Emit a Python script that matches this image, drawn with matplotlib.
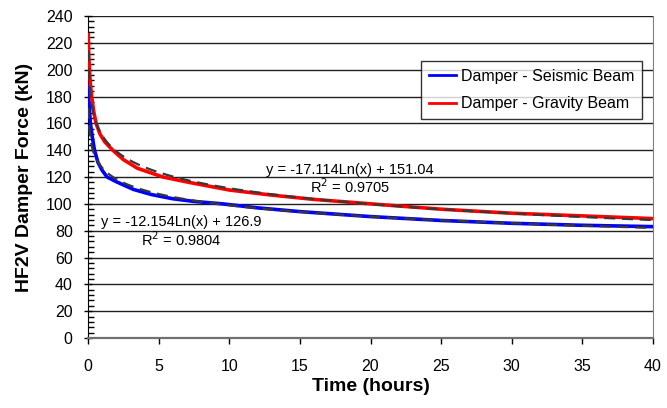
import numpy as np
import matplotlib
matplotlib.use("Agg")
import matplotlib.pyplot as plt
from matplotlib.ticker import MultipleLocator

plt.rcParams['font.family'] = ['Liberation Sans', 'DejaVu Sans']

# measured damper force (kN) against time (hours)
t_seismic = [0.02, 0.05, 0.1, 0.17, 0.3, 0.46, 0.7, 1.0, 1.35, 2.0, 3.2, 4.5,
             6.0, 7.5, 9.5, 12, 15, 20, 25, 30, 35, 40]
f_seismic = [188, 180, 170, 160, 150, 140, 131, 125, 120, 116.5, 110.8, 106.9,
             103.8, 101.8, 100, 97, 94.2, 90.5, 87.6, 85.5, 84, 83]

t_gravity = [0.02, 0.05, 0.1, 0.17, 0.26, 0.4, 0.57, 0.85, 1.2, 1.75, 2.5, 3.5,
             5.3, 7.0, 10, 13, 16, 20, 25, 30, 35, 40]
f_gravity = [226, 212, 200, 189, 180, 169, 160, 152, 146, 140, 133, 126.5,
             120, 116.3, 110.3, 106.5, 103.3, 100, 96, 93, 91, 89]

# log trendlines y = a*ln(x) + b
fit_seismic = (-12.154, 126.9)
fit_gravity = (-17.114, 151.04)
r2_seismic = 0.9804
r2_gravity = 0.9705

labels = ['Damper - Seismic Beam', 'Damper - Gravity Beam']

fig = plt.figure(figsize=(6.67, 4.08), dpi=100)
ax = fig.add_axes([88 / 667, 1 - 338 / 408, 565 / 667, 322 / 408])

ax.plot(t_seismic, f_seismic, color='#0000ff', lw=2.6, label=labels[0], zorder=3)
ax.plot(t_gravity, f_gravity, color='#ff0000', lw=2.6, label=labels[1], zorder=3)

tt = np.linspace(0.025, 40, 600)
for a, b in (fit_seismic, fit_gravity):
    ax.plot(tt, a * np.log(tt) + b, color='#383838', lw=1.6,
            dashes=(5, 3), zorder=4)

ax.set_xlim(0, 40)
ax.set_ylim(0, 240)
ax.xaxis.set_major_locator(MultipleLocator(5))
ax.yaxis.set_major_locator(MultipleLocator(20))
ax.yaxis.set_minor_locator(MultipleLocator(4))

ax.grid(axis='y', which='major', color='#202020', lw=1.0, zorder=1)
ax.set_axisbelow(True)
ax.spines['top'].set_visible(False)
ax.spines['right'].set_color('#808080')
ax.spines['bottom'].set_color('#707070')
ax.spines['bottom'].set_linewidth(1.6)
ax.spines['left'].set_color('black')

ax.tick_params(axis='y', which='major', direction='inout', length=6, width=1,
               labelsize=11.5, pad=8)
ax.tick_params(axis='y', which='minor', direction='in', length=4, width=1)
ax.tick_params(axis='x', which='major', direction='out', length=4, width=1,
               labelsize=11.5, pad=11)

ax.set_xlabel('Time (hours)', fontsize=14, fontweight='bold')
ax.set_ylabel('HF2V Damper Force (kN)', fontsize=14, fontweight='bold')
ax.xaxis.set_label_coords(0.5, -0.125)
ax.yaxis.set_label_coords(-0.097, 0.5)

eq_kw = dict(fontsize=10.5, ha='center', va='center', zorder=5)
ax.text(6.63, (338 - 222) / 1.3417,
        'y = %.3fLn(x) + %.1f' % fit_seismic, **eq_kw)
ax.text(6.63, (338 - 240) / 1.3417,
        'R$^2$ = %.4f' % r2_seismic, **eq_kw)
ax.text(18.55, (338 - 170) / 1.3417,
        'y = %.3fLn(x) + %.2f' % fit_gravity, **eq_kw)
ax.text(18.55, (338 - 187) / 1.3417,
        'R$^2$ = %.4f' % r2_gravity, **eq_kw)

leg = ax.legend(loc='upper right', bbox_to_anchor=((642 - 88) / 565, (338 - 60.7) / 322),
                borderaxespad=0, fontsize=11.5, frameon=True, fancybox=False,
                handlelength=1.7, handletextpad=0.3, labelspacing=0.8,
                borderpad=0.5)
leg.get_frame().set_edgecolor('black')
leg.get_frame().set_linewidth(1.0)
for line in leg.get_lines():
    line.set_linewidth(2.0)
leg.set_zorder(6)

fig.savefig('out.png', dpi=100)
